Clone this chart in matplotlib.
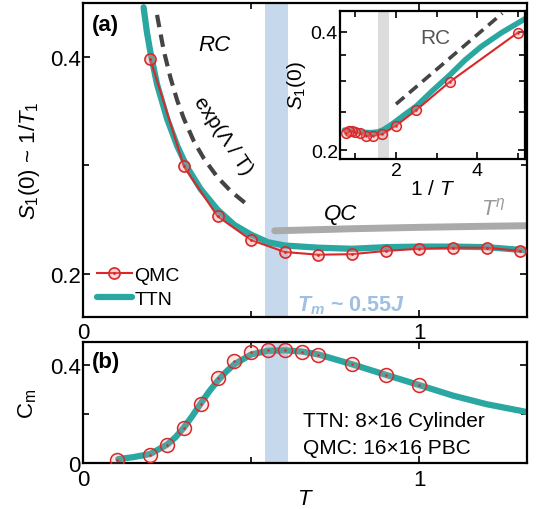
import matplotlib
matplotlib.use('Agg')
import matplotlib.pyplot as plt
from matplotlib.legend_handler import HandlerTuple

plt.rcParams['font.family'] = ['Liberation Sans', 'DejaVu Sans']
plt.rcParams['mathtext.fontset'] = 'custom'
plt.rcParams['mathtext.rm'] = 'Liberation Sans'
plt.rcParams['mathtext.it'] = 'Liberation Sans:italic'
plt.rcParams['mathtext.bf'] = 'Liberation Sans:bold'
plt.rcParams['mathtext.bfit'] = 'Liberation Sans:italic:bold'

# (a) S1(0) vs T
qmc_T = [0.2, 0.3, 0.4, 0.5, 0.6, 0.7, 0.8, 0.9, 1.0, 1.1, 1.2, 1.3]
qmc_S = [0.398, 0.299, 0.253, 0.231, 0.220, 0.2175, 0.218, 0.221, 0.223, 0.224, 0.224, 0.221]

ttn_T = [0.18, 0.19, 0.20, 0.22, 0.25, 0.28, 0.31, 0.35, 0.40, 0.45, 0.50,
         0.55, 0.60, 0.70, 0.80, 0.90, 1.00, 1.10, 1.20, 1.32]
ttn_S = [0.446, 0.423, 0.405, 0.375, 0.343, 0.318, 0.298, 0.278, 0.259, 0.245, 0.236,
         0.229, 0.226, 0.224, 0.223, 0.2245, 0.225, 0.225, 0.2245, 0.2215]

exp_T = [0.22, 0.24, 0.26, 0.28, 0.30, 0.33, 0.36, 0.40, 0.44, 0.495]
exp_S = [0.439, 0.406, 0.381, 0.360, 0.343, 0.322, 0.306, 0.289, 0.276, 0.262]

pow_T = [0.57, 0.8, 1.0, 1.2, 1.32]
pow_S = [0.2396, 0.2415, 0.2428, 0.2438, 0.2443]

# inset, S1(0) vs 1/T
ins_ttn_x = [0.73, 1.0, 1.2, 1.39, 1.55, 1.68, 1.85, 2.0, 2.25, 2.5, 2.9, 3.33, 3.7, 4.1, 4.6, 5.2]
ins_ttn_S = [0.2251, 0.2235, 0.222, 0.2217, 0.2225, 0.2253, 0.231, 0.2371, 0.248, 0.2588,
             0.2835, 0.311, 0.339, 0.367, 0.398, 0.433]
ins_exp_x = [2.0, 4.62]
ins_exp_S = [0.262, 0.446]

# (b) Cm vs T
cm_qmc_T = [0.1, 0.2, 0.25, 0.3, 0.35, 0.4, 0.45, 0.5, 0.55, 0.6, 0.65, 0.7, 0.8, 0.9, 1.0]
cm_qmc = [0.012, 0.033, 0.073, 0.143, 0.24, 0.347, 0.416, 0.453, 0.461, 0.461, 0.453,
          0.441, 0.404, 0.359, 0.318]
cm_ttn_T = [0.105, 0.15, 0.2, 0.25, 0.275, 0.3, 0.325, 0.35, 0.375, 0.4, 0.425, 0.45,
            0.5, 0.55, 0.6, 0.65, 0.7, 0.8, 0.9, 1.0, 1.1, 1.2, 1.32]
cm_ttn = [0.016, 0.024, 0.037, 0.075, 0.105, 0.145, 0.192, 0.243, 0.292, 0.335, 0.372, 0.403,
          0.443, 0.458, 0.46, 0.455, 0.443, 0.403, 0.36, 0.318, 0.275, 0.24, 0.208]

band = (0.54, 0.61)
ins_band = (1.55, 1.83)

teal = '#2aa7a1'
red = '#d8282a'
pink = (0.95, 0.55, 0.55, 0.35)
bandc = '#c5d8ec'

fig = plt.figure(figsize=(5.43, 5.10), dpi=100)
ax = fig.add_axes([0.1529, 0.3765, 0.8176, 0.6157])
axb = fig.add_axes([0.1529, 0.0902, 0.8176, 0.2373])
axi = fig.add_axes([0.6262, 0.6863, 0.3407, 0.2902])


def style(a, size=16, pad=1.5):
    a.tick_params(which='both', direction='in', top=True, right=True, labelsize=size, width=1.2)
    a.tick_params(which='major', length=5)
    a.tick_params(which='minor', length=4)
    a.tick_params(axis='y', pad=pad)
    for s in a.spines.values():
        s.set_linewidth(1.6)


# ---- panel (a)
ax.axvspan(*band, color=bandc, lw=0, zorder=0)
ax.plot(ttn_T, ttn_S, color=teal, lw=4.5, solid_capstyle='round', zorder=2)
l_qmc, = ax.plot(qmc_T, qmc_S, '-o', color=red, lw=1.5, ms=8, mfc=pink, mec=red, mew=1.2, zorder=3)
l_dot, = ax.plot(qmc_T, qmc_S, '.', color=red, ms=2, zorder=4)
ax.plot(exp_T, exp_S, '--', color='#444444', lw=3, dashes=(3, 1.8), zorder=2)
ax.plot(pow_T, pow_S, color='#aaaaaa', lw=5, solid_capstyle='round', zorder=1)
l_ttn, = ax.plot([], [], color=teal, lw=4.5, solid_capstyle='round')

ax.set_xlim(0, 1.32)
ax.set_ylim(0.16, 0.45)
ax.set_xticks([0, 1])
ax.set_xticks([0.5], minor=True)
ax.set_yticks([0.2, 0.4])
ax.set_yticks([0.3], minor=True)
ax.set_yticklabels(['0.2', '0.4'])
style(ax)
ax.set_ylabel(r'$S_1(0)$ ~ 1/$T_1$', fontsize=16, labelpad=6)

ax.text(0.027, 0.43, '(a)', fontsize=16, fontweight='bold', va='center')
ax.text(0.39, 0.412, 'RC', fontsize=16, style='italic', ha='center', va='center')
ax.text(0.417, 0.328, 'exp(Λ / T)', fontsize=15, rotation=-56, ha='center', va='center',
        rotation_mode='anchor')
ax.text(0.765, 0.2553, 'QC', fontsize=16, style='italic', ha='center', va='center')
ax.text(1.22, 0.2605, r'$T^{\eta}$', fontsize=16, color='#999999', ha='center', va='center')
ax.text(0.635, 0.1715, r'$\mathbfit{T_m}$' + ' ~ 0.55' + r'$\mathbfit{J}$', fontsize=15.5,
        fontweight='bold', color='#9fc0e2', ha='left', va='center')

ax.legend([(l_qmc, l_dot), l_ttn], ['QMC', 'TTN'], handler_map={tuple: HandlerTuple(ndivide=1)},
          loc='lower left', bbox_to_anchor=(0.0, -0.015), frameon=False, fontsize=14,
          handlelength=1.8, handletextpad=0.15, labelspacing=0.35, borderaxespad=0.3)

# ---- inset
qmc_invT = [1.0 / t for t in qmc_T]
axi.axvspan(*ins_band, color='#dcdcdc', lw=0, zorder=0)
axi.plot(ins_ttn_x, ins_ttn_S, color=teal, lw=4, solid_capstyle='round', zorder=2)
axi.plot(qmc_invT, qmc_S, '-o', color=red, lw=1.5, ms=7, mfc=pink, mec=red, mew=1.1, zorder=3)
axi.plot(qmc_invT, qmc_S, '.', color=red, ms=1.5, zorder=4)
axi.plot(ins_exp_x, ins_exp_S, '--', color='#444444', lw=2.6, dashes=(3, 1.8), zorder=2)
axi.set_yscale('log')
axi.set_xlim(0.62, 5.18)
axi.set_ylim(0.19, 0.452)
axi.set_xticks([2, 4])
axi.set_xticks([1, 3, 5], minor=True)
axi.set_yticks([0.2, 0.4])
axi.set_yticklabels(['0.2', '0.4'])
axi.set_yticks([0.25, 0.3, 0.35], minor=True)
axi.yaxis.set_minor_formatter(plt.NullFormatter())
style(axi, size=14, pad=1.5)
axi.tick_params(axis='x', pad=2)
axi.set_xlabel('1 / $T$', fontsize=15, labelpad=0)
axi.set_ylabel(r'$S_1(0)$', fontsize=15, labelpad=2)
axi.text(2.96, 0.386, 'RC', fontsize=15, color='#555555', ha='center', va='center')

# ---- panel (b)
axb.axvspan(*band, color=bandc, lw=0, zorder=0)
axb.plot(cm_ttn_T, cm_ttn, color=teal, lw=4.5, solid_capstyle='round', zorder=2)
axb.plot(cm_qmc_T, cm_qmc, 'o', ms=10, mfc=(0.95, 0.55, 0.55, 0.2), mec=red, mew=1.1, zorder=3)
axb.plot(cm_qmc_T, cm_qmc, '.', color=red, ms=1.5, zorder=4)
axb.set_xlim(0, 1.32)
axb.set_ylim(0, 0.494)
axb.set_xticks([0, 1])
axb.set_xticks([0.5], minor=True)
axb.set_yticks([0, 0.4])
axb.set_yticklabels(['0', '0.4'])
axb.set_yticks([0.2], minor=True)
style(axb)
axb.tick_params(axis='x', pad=4)
axb.set_xlabel('$T$', fontsize=16, labelpad=-1)
axb.set_ylabel(r'C$_\mathrm{m}$', fontsize=16, labelpad=8)
axb.text(0.027, 0.415, '(b)', fontsize=16, fontweight='bold', va='center')
axb.text(0.655, 0.172, 'TTN: 8×16 Cylinder', fontsize=15, va='center')
axb.text(0.655, 0.065, 'QMC: 16×16 PBC', fontsize=15, va='center')

fig.savefig('out.png', dpi=100)
